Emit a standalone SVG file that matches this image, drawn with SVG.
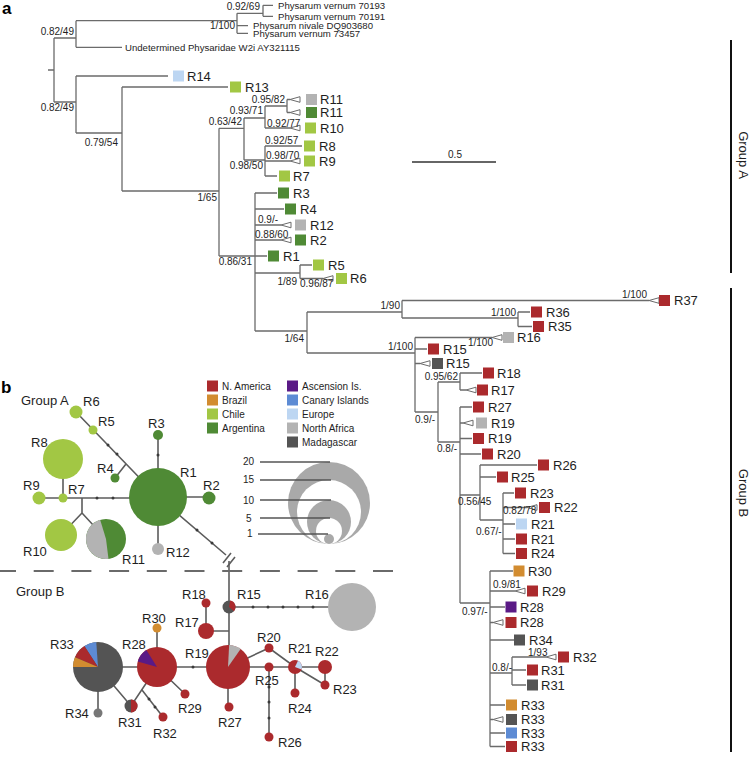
<svg xmlns="http://www.w3.org/2000/svg" width="750" height="759" viewBox="0 0 750 759">
<defs>
<style>
text{font-family:"Liberation Sans",Arial,Helvetica,sans-serif;fill:#1e1e1e}
.L{font-size:13px}
.s{font-size:10px}
.sp{font-size:9.6px}
.end{text-anchor:end}
.hd{font-size:17px;font-weight:bold;fill:#000}
.t{stroke:#6b6b6b;stroke-width:1.3;fill:none}
.e{stroke:#5c5c5c;stroke-width:1.6;fill:none}
.tri{fill:#fff;stroke:#6b6b6b;stroke-width:1}
.na{fill:#ab2a2d}.br{fill:#d28c30}.ch{fill:#a2c744}.ar{fill:#4f8a35}.as{fill:#5a1a86}.ca{fill:#5d8bd4}.eu{fill:#bdd6f2}.af{fill:#b3b3b3}.ma{fill:#545454}.m2{fill:#777}
.tk{fill:#3a3a3a}
.bar{stroke:#111;stroke-width:2}
.sz{fill:#a9a9a9}
.szl{stroke:#555;stroke-width:1.5}
</style>
<path id="tri" class="tri" d="M0,0 L10,-2.8 L10,2.8 Z"/>
</defs>
<rect width="750" height="759" fill="#fff"/>

<text class="hd" x="2" y="14">a</text>
<text class="hd" x="1" y="393">b</text>

<!-- ===== Panel a: tree connectors ===== -->
<g id="connectors">
<path class="t" d="M48,70 H54 M54,38 V102 M54,38 H76 M76,20.7 V47.3 M76,20.7 H237 M76,47.3 H122 M237,13.3 V33.3 M237,13.3 H263 M263,5.3 V16.3 M263,5.3 H273 M263,16.3 H273 M237,25.7 H248 M237,33.3 H248
M54,102 H76 M76,76 V133 M76,76 H168 M76,133 H122 M122,87 V191 M122,87 H228 M122,191 H219 M219,128.3 V256 M219,128.3 H244 M244,118 V160 M244,118 H265 M265,106 V128 M265,106 H287 M287,99.5 V112.5 M287,99.5 H290 M287,112.5 H290 M265,128 H290 M244,160 H265 M265,146 V176 M265,146 H302 M265,161 H290 M265,176 H277 M219,256 H267 M255,193 V331 M255,193 H277 M255,209 H284 M255,225 H281 M255,240 H281 M255,273 H300 M300,265 V278.5 M300,265 H312 M300,278.5 H323
M255,331 H307 M307,312 V353 M307,312 H402 M402,300.5 V318 M402,300.5 H649 M402,318 H518 M518,312 V326.5 M518,312 H530 M518,326.5 H532 M307,353 H415 M415,337.5 V412 M415,337.5 H492 M415,349 H427 M415,363.5 H420 M415,412 H438 M438,382 V442 M438,382 H460 M460,373 V390 M460,373 H482 M460,390 H466 M438,442 H460 M460,407 V603 M460,407 H472 M460,423 H463 M460,438.5 H472 M460,454 H481 M460,495 H480 M480,465 V520 M480,465 H537 M480,477 H496 M480,520 H503 M503,493 V553.5 M503,493 H514 M503,507.5 H527 M503,524 H515 M503,539 H515 M503,553.5 H515 M460,603 H490 M490,571 V746.5 M490,571 H513 M490,591 H515 M490,607 H505 M490,622.5 H493 M490,640 H514 M490,673 H512 M512,657 V685 M512,657 H546 M512,670 H526 M512,685 H526 M490,705 H505 M490,719.5 H493 M490,733 H505 M490,746.5 H505"/>
<use href="#tri" x="290" y="99.5"/><use href="#tri" x="290" y="112.5"/><use href="#tri" x="290" y="128"/><use href="#tri" x="290" y="161"/>
<use href="#tri" x="281" y="225"/><use href="#tri" x="281" y="240"/><use href="#tri" x="323" y="278.5"/>
<use href="#tri" x="649" y="300.5"/><use href="#tri" x="492" y="337.5"/><use href="#tri" x="420" y="363.5"/><use href="#tri" x="466" y="390"/>
<use href="#tri" x="463" y="423"/><use href="#tri" x="527" y="507.5"/><use href="#tri" x="515" y="591"/><use href="#tri" x="493" y="622.5"/>
<use href="#tri" x="546" y="657"/><use href="#tri" x="493" y="719.5"/>

<!-- network edges -->
<path class="e" d="M76,412 L158,497 M115,478 L126,464 M158,435 V497 H209 M39,498 H158 M63,459 V498 M82,498 V513 L61,535 M82,513 L106,539 M158,497 V549 M158,497 L226,555 M229,561 V667
M206,603 V631 H229 M229,607 H352 M157,628 V667 M98,667 H228 M98,667 V713 M98,667 L131,706 L157,667 M142,690 L163,717 M157,667 L185,694 M228,667 V707 M228,667 L269,648 L295,667 L325,685 M228,667 H325 M295,667 V693 M325,667 V685 M269,667 V737"/>
<path class="e" d="M223,563 L231,553 M227,567 L235,557"/>
<g class="tk">
<circle cx="108" cy="445" r="1.5"/><circle cx="117" cy="454" r="1.5"/><circle cx="158" cy="455" r="1.5"/><circle cx="97" cy="498" r="1.5"/><circle cx="113" cy="498" r="1.5"/><circle cx="197" cy="530" r="1.5"/><circle cx="212" cy="543" r="1.5"/>
<circle cx="253" cy="607" r="1.5"/><circle cx="268" cy="607" r="1.5"/><circle cx="283" cy="607" r="1.5"/><circle cx="298" cy="607" r="1.5"/><circle cx="313" cy="607" r="1.5"/><circle cx="193" cy="667" r="1.5"/><circle cx="149" cy="699" r="1.5"/><circle cx="155" cy="707" r="1.5"/><circle cx="269" cy="687" r="1.5"/><circle cx="269" cy="702" r="1.5"/><circle cx="269" cy="718" r="1.5"/>
</g>
</g>

<!-- support values -->
<g id="support" class="s">
<text class="s end" x="74" y="35">0.82/49</text>
<text class="s end" x="260" y="10">0.92/69</text>
<text class="s end" x="235" y="29">1/100</text>
<text class="s end" x="74" y="111">0.82/49</text>
<text class="s end" x="118" y="146">0.79/54</text>
<text class="s end" x="217" y="201">1/65</text>
<text class="s end" x="242" y="125">0.63/42</text>
<text class="s end" x="263" y="114">0.93/71</text>
<text class="s end" x="285" y="103">0.95/82</text>
<text class="s" x="267" y="126.5">0.92/77</text>
<text class="s" x="265" y="143.5">0.92/57</text>
<text class="s" x="266" y="158.5">0.98/70</text>
<text class="s end" x="263" y="169">0.98/50</text>
<text class="s end" x="252" y="265">0.86/31</text>
<text class="s" x="258" y="223">0.9/-</text>
<text class="s" x="255" y="238">0.88/60</text>
<text class="s end" x="297" y="285">1/89</text>
<text class="s" x="300" y="287">0.96/87</text>
<text class="s end" x="304" y="342">1/64</text>
<text class="s end" x="400" y="309">1/90</text>
<text class="s end" x="647" y="298">1/100</text>
<text class="s end" x="516" y="316">1/100</text>
<text class="s end" x="413" y="350">1/100</text>
<text class="s end" x="493" y="346">1/100</text>
<text class="s end" x="458" y="380">0.95/62</text>
<text class="s end" x="435" y="423">0.9/-</text>
<text class="s end" x="457" y="452">0.8/-</text>
<text class="s" x="458" y="505">0.56/45</text>
<text class="s" x="503" y="514">0.82/78</text>
<text class="s" x="476" y="535">0.67/-</text>
<text class="s" x="462" y="615">0.97/-</text>
<text class="s" x="493" y="588">0.9/81</text>
<text class="s" x="492" y="671">0.8/-</text>
<text class="s" x="528" y="655.5">1/93</text>
</g>

<!-- outgroup taxa -->
<g id="outgroup" class="sp">
<text class="sp" x="278" y="8.8">Physarum vernum 70193</text>
<text class="sp" x="278" y="19.6">Physarum vernum 70191</text>
<text class="sp" x="253" y="29.1">Physarum nivale DQ903680</text>
<text class="sp" x="253" y="36.9">Physarum vernum 73457</text>
<text class="sp" x="125" y="50.8">Undetermined Physaridae W2i AY321115</text>
</g>

<!-- tree leaves Group A -->
<g id="leaf-R14"><rect class="eu" x="173" y="70.5" width="11" height="11"/><text class="L" x="187" y="80.6">R14</text></g>
<g id="leaf-R13"><rect class="ch" x="230" y="81.5" width="11" height="11"/><text class="L" x="245" y="91.6">R13</text></g>
<g id="leaf-R11a"><rect class="af" x="306" y="94" width="11" height="11"/><text class="L" x="320" y="104.1">R11</text></g>
<g id="leaf-R11b"><rect class="ar" x="306" y="107" width="11" height="11"/><text class="L" x="320" y="117.1">R11</text></g>
<g id="leaf-R10"><rect class="ch" x="305" y="122.5" width="11" height="11"/><text class="L" x="320" y="132.6">R10</text></g>
<g id="leaf-R8"><rect class="ch" x="304" y="140.5" width="11" height="11"/><text class="L" x="319" y="150.6">R8</text></g>
<g id="leaf-R9"><rect class="ch" x="304" y="155.5" width="11" height="11"/><text class="L" x="319" y="165.6">R9</text></g>
<g id="leaf-R7"><rect class="ch" x="279" y="170.5" width="11" height="11"/><text class="L" x="293" y="180.6">R7</text></g>
<g id="leaf-R3"><rect class="ar" x="278" y="187.5" width="11" height="11"/><text class="L" x="293" y="197.6">R3</text></g>
<g id="leaf-R4"><rect class="ar" x="285" y="203.5" width="11" height="11"/><text class="L" x="300" y="213.6">R4</text></g>
<g id="leaf-R12"><rect class="af" x="295" y="219.5" width="11" height="11"/><text class="L" x="310" y="229.6">R12</text></g>
<g id="leaf-R2"><rect class="ar" x="295" y="234.5" width="11" height="11"/><text class="L" x="310" y="244.6">R2</text></g>
<g id="leaf-R1"><rect class="ar" x="268" y="250.5" width="11" height="11"/><text class="L" x="283" y="260.6">R1</text></g>
<g id="leaf-R5"><rect class="ch" x="313" y="259.5" width="11" height="11"/><text class="L" x="328" y="269.6">R5</text></g>
<g id="leaf-R6"><rect class="ch" x="336" y="273" width="11" height="11"/><text class="L" x="350" y="283.1">R6</text></g>

<!-- tree leaves Group B -->
<g id="leaf-R37"><rect class="na" x="659" y="295" width="11" height="11"/><text class="L" x="674" y="305.1">R37</text></g>
<g id="leaf-R36"><rect class="na" x="531" y="306.5" width="11" height="11"/><text class="L" x="546" y="316.6">R36</text></g>
<g id="leaf-R35"><rect class="na" x="533" y="321" width="11" height="11"/><text class="L" x="548" y="331.1">R35</text></g>
<g id="leaf-R16"><rect class="af" x="503" y="332" width="11" height="11"/><text class="L" x="517" y="342.1">R16</text></g>
<g id="leaf-R15a"><rect class="na" x="428" y="343.5" width="11" height="11"/><text class="L" x="443" y="353.6">R15</text></g>
<g id="leaf-R15b"><rect class="ma" x="432" y="358" width="11" height="11"/><text class="L" x="446" y="368.1">R15</text></g>
<g id="leaf-R18"><rect class="na" x="483" y="367.5" width="11" height="11"/><text class="L" x="497" y="377.6">R18</text></g>
<g id="leaf-R17"><rect class="na" x="477" y="384.5" width="11" height="11"/><text class="L" x="491" y="394.6">R17</text></g>
<g id="leaf-R27"><rect class="na" x="473" y="401.5" width="11" height="11"/><text class="L" x="488" y="411.6">R27</text></g>
<g id="leaf-R19a"><rect class="af" x="476" y="417.5" width="11" height="11"/><text class="L" x="491" y="427.6">R19</text></g>
<g id="leaf-R19b"><rect class="na" x="473" y="433" width="11" height="11"/><text class="L" x="488" y="443.1">R19</text></g>
<g id="leaf-R20"><rect class="na" x="482" y="448.5" width="11" height="11"/><text class="L" x="497" y="458.6">R20</text></g>
<g id="leaf-R26"><rect class="na" x="538" y="459.5" width="11" height="11"/><text class="L" x="553" y="469.6">R26</text></g>
<g id="leaf-R25"><rect class="na" x="497" y="471.5" width="11" height="11"/><text class="L" x="511" y="481.6">R25</text></g>
<g id="leaf-R23"><rect class="na" x="515" y="487.5" width="11" height="11"/><text class="L" x="530" y="497.6">R23</text></g>
<g id="leaf-R22"><rect class="na" x="539" y="502" width="11" height="11"/><text class="L" x="554" y="512.1">R22</text></g>
<g id="leaf-R21a"><rect class="eu" x="516" y="518.5" width="11" height="11"/><text class="L" x="531" y="528.6">R21</text></g>
<g id="leaf-R21b"><rect class="na" x="516" y="533.5" width="11" height="11"/><text class="L" x="531" y="543.6">R21</text></g>
<g id="leaf-R24"><rect class="na" x="516" y="548" width="11" height="11"/><text class="L" x="531" y="558.1">R24</text></g>
<g id="leaf-R30"><rect class="br" x="513.5" y="565.5" width="11" height="11"/><text class="L" x="528" y="575.6">R30</text></g>
<g id="leaf-R29"><rect class="na" x="527" y="585.5" width="11" height="11"/><text class="L" x="542" y="595.6">R29</text></g>
<g id="leaf-R28a"><rect class="as" x="505.5" y="601.5" width="11" height="11"/><text class="L" x="520" y="611.6">R28</text></g>
<g id="leaf-R28b"><rect class="na" x="505.5" y="617" width="11" height="11"/><text class="L" x="520" y="627.1">R28</text></g>
<g id="leaf-R34"><rect class="ma" x="514" y="634.5" width="11" height="11"/><text class="L" x="529" y="644.6">R34</text></g>
<g id="leaf-R32"><rect class="na" x="558" y="651.5" width="11" height="11"/><text class="L" x="573" y="661.6">R32</text></g>
<g id="leaf-R31a"><rect class="na" x="527" y="664.5" width="11" height="11"/><text class="L" x="541" y="674.6">R31</text></g>
<g id="leaf-R31b"><rect class="ma" x="527" y="679.5" width="11" height="11"/><text class="L" x="541" y="689.6">R31</text></g>
<g id="leaf-R33a"><rect class="br" x="506" y="699.5" width="11" height="11"/><text class="L" x="521" y="709.6">R33</text></g>
<g id="leaf-R33b"><rect class="ma" x="506" y="714" width="11" height="11"/><text class="L" x="521" y="724.1">R33</text></g>
<g id="leaf-R33c"><rect class="ca" x="506" y="727.5" width="11" height="11"/><text class="L" x="521" y="737.6">R33</text></g>
<g id="leaf-R33d"><rect class="na" x="506" y="741" width="11" height="11"/><text class="L" x="521" y="751.1">R33</text></g>

<!-- group bars and scale -->
<g id="groupA-bar"><line class="bar" x1="731" y1="40" x2="731" y2="273"/><text class="L" transform="translate(738.5,155) rotate(90)" text-anchor="middle">Group A</text></g>
<g id="groupB-bar"><line class="bar" x1="731" y1="288" x2="731" y2="752"/><text class="L" transform="translate(738.5,493) rotate(90)" text-anchor="middle">Group B</text></g>
<g id="scale"><line x1="412" y1="162" x2="496" y2="162" stroke="#333" stroke-width="1.3"/><text class="s" x="455" y="158" text-anchor="middle">0.5</text></g>

<!-- ===== Panel b ===== -->
<line x1="-4" y1="571" x2="393" y2="571" stroke="#6a6a6a" stroke-width="2" stroke-dasharray="20 17.7"/>
<text class="L" x="21" y="405">Group A</text>
<text class="L" x="16" y="596">Group B</text>

<g id="legend" class="s">
<rect class="na" x="207" y="380.5" width="11" height="11"/><text class="s" x="222" y="390">N. America</text>
<rect class="br" x="207" y="394.5" width="11" height="11"/><text class="s" x="222" y="404">Brazil</text>
<rect class="ch" x="207" y="408.5" width="11" height="11"/><text class="s" x="222" y="418">Chile</text>
<rect class="ar" x="207" y="422.5" width="11" height="11"/><text class="s" x="222" y="432">Argentina</text>
<rect class="as" x="287" y="380.5" width="11" height="11"/><text class="s" x="302" y="390">Ascension Is.</text>
<rect class="ca" x="287" y="394.5" width="11" height="11"/><text class="s" x="302" y="404">Canary Islands</text>
<rect class="eu" x="287" y="408.5" width="11" height="11"/><text class="s" x="302" y="418">Europe</text>
<rect class="af" x="287" y="422.5" width="11" height="11"/><text class="s" x="302" y="432">North Africa</text>
<rect class="ma" x="287" y="436.5" width="11" height="11"/><text class="s" x="302" y="446">Madagascar</text>
</g>

<g id="size-legend">
<circle class="sz" cx="329" cy="503" r="41"/>
<circle fill="#fff" cx="329" cy="512" r="32"/>
<circle class="sz" cx="329" cy="522" r="22"/>
<circle fill="#fff" cx="329" cy="531" r="13"/>
<circle class="sz" cx="329" cy="539" r="5"/>
<line class="szl" x1="260" y1="462" x2="330" y2="462"/>
<line class="szl" x1="260" y1="480" x2="331" y2="480"/>
<line class="szl" x1="260" y1="500" x2="331" y2="500"/>
<line class="szl" x1="260" y1="518" x2="330" y2="518"/>
<line class="szl" x1="258" y1="534" x2="328" y2="534"/>
<text class="s" x="243" y="465">20</text>
<text class="s" x="243" y="483">15</text>
<text class="s" x="243" y="504">10</text>
<text class="s" x="246" y="522">5</text>
<text class="s" x="247" y="537">1</text>
</g>

<!-- network nodes Group A -->
<g id="node-R6"><circle class="ch" cx="76" cy="412" r="6.5"/><text class="L" x="83" y="406">R6</text></g>
<g id="node-R5"><circle class="ch" cx="93" cy="430" r="4.5"/><text class="L" x="98" y="426">R5</text></g>
<g id="node-R3"><circle class="ar" cx="158" cy="435" r="5"/><text class="L" x="148" y="428">R3</text></g>
<g id="node-R8"><circle class="ch" cx="63" cy="459" r="20"/><text class="L" x="31" y="447">R8</text></g>
<g id="node-R4"><circle class="ar" cx="115" cy="478" r="4.5"/><text class="L" x="97" y="473">R4</text></g>
<g id="node-R1"><circle class="ar" cx="158" cy="497" r="29"/><text class="L" x="180" y="477">R1</text></g>
<g id="node-R2"><circle class="ar" cx="209" cy="498" r="6.5"/><text class="L" x="203" y="490">R2</text></g>
<g id="node-R9"><circle class="ch" cx="39" cy="498" r="6.5"/><text class="L" x="23" y="490">R9</text></g>
<g id="node-R7"><circle class="ch" cx="63" cy="498" r="4.5"/><text class="L" x="68" y="494">R7</text></g>
<g id="node-R10"><circle class="ch" cx="61" cy="535" r="16"/><text class="L" x="23" y="556">R10</text></g>
<g id="node-R11"><circle class="ar" cx="106" cy="539" r="20"/><path class="af" d="M106,539 L100.15,519.87 A20,20 0 0,0 108.44,558.85 Z"/><text class="L" x="122" y="564">R11</text></g>
<g id="node-R12"><circle class="af" cx="158" cy="549" r="6"/><text class="L" x="166" y="557">R12</text></g>

<!-- network nodes Group B -->
<g id="node-R15"><circle class="ma" cx="229" cy="607" r="6.5"/><path class="na" d="M229,607 L233.98,611.18 A6.5,6.5 0 0,0 230.13,600.6 Z"/><text class="L" x="237" y="599">R15</text></g>
<g id="node-R18"><circle class="na" cx="206" cy="603" r="4.5"/><text class="L" x="182" y="599">R18</text></g>
<g id="node-R16"><circle class="af" cx="352" cy="607" r="24"/><text class="L" x="305" y="599">R16</text></g>
<g id="node-R17"><circle class="na" cx="206" cy="631" r="8"/><text class="L" x="175" y="627">R17</text></g>
<g id="node-R19"><circle class="na" cx="228" cy="667" r="22"/><path class="af" d="M228,667 L240.62,648.98 A22,22 0 0,0 229.15,645.03 Z"/><text class="L" x="185" y="658">R19</text></g>
<g id="node-R30"><circle class="br" cx="157" cy="628" r="4.5"/><text class="L" x="142" y="623">R30</text></g>
<g id="node-R28"><circle class="na" cx="157" cy="667" r="20"/><path class="as" d="M157,667 L146.4,650.04 A20,20 0 0,0 137.78,661.49 Z"/><text class="L" x="122" y="649">R28</text></g>
<g id="node-R33"><circle class="ma" cx="98" cy="667" r="25"/><path class="ca" d="M98,667 L96.26,642.06 A25,25 0 0,0 84.38,646.03 Z"/><path class="na" d="M98,667 L84.38,646.03 A25,25 0 0,0 74.99,657.23 Z"/><path class="br" d="M98,667 L74.99,657.23 A25,25 0 0,0 73,667 Z"/><text class="L" x="50" y="649">R33</text></g>
<g id="node-R34"><circle class="m2" cx="98" cy="713" r="4.5"/><text class="L" x="65" y="718">R34</text></g>
<g id="node-R31"><circle class="ma" cx="131" cy="706" r="6.5"/><path class="na" d="M131,706 L131,712.5 A6.5,6.5 0 0,0 131,699.5 Z"/><text class="L" x="118" y="727">R31</text></g>
<g id="node-R32"><circle class="na" cx="163" cy="717" r="4.5"/><text class="L" x="153" y="738">R32</text></g>
<g id="node-R29"><circle class="na" cx="185" cy="694" r="4.5"/><text class="L" x="178" y="713">R29</text></g>
<g id="node-R27"><circle class="na" cx="229" cy="707" r="4.5"/><text class="L" x="218" y="727">R27</text></g>
<g id="node-R20"><circle class="na" cx="269" cy="648" r="4.5"/><text class="L" x="257" y="642">R20</text></g>
<g id="node-R25"><circle class="na" cx="269" cy="667" r="4.5"/><text class="L" x="255" y="685">R25</text></g>
<g id="node-R21"><circle class="na" cx="295" cy="667" r="7"/><path class="eu" d="M295,667 L301.49,669.62 A7,7 0 0,0 297.96,660.66 Z"/><text class="L" x="288" y="653">R21</text></g>
<g id="node-R22"><circle class="na" cx="325" cy="667" r="7"/><text class="L" x="315" y="656">R22</text></g>
<g id="node-R23"><circle class="na" cx="325" cy="685" r="4.5"/><text class="L" x="333" y="694">R23</text></g>
<g id="node-R24"><circle class="na" cx="295" cy="693" r="4.5"/><text class="L" x="288" y="713">R24</text></g>
<g id="node-R26"><circle class="na" cx="269" cy="737" r="4.5"/><text class="L" x="278" y="747">R26</text></g>
</svg>
